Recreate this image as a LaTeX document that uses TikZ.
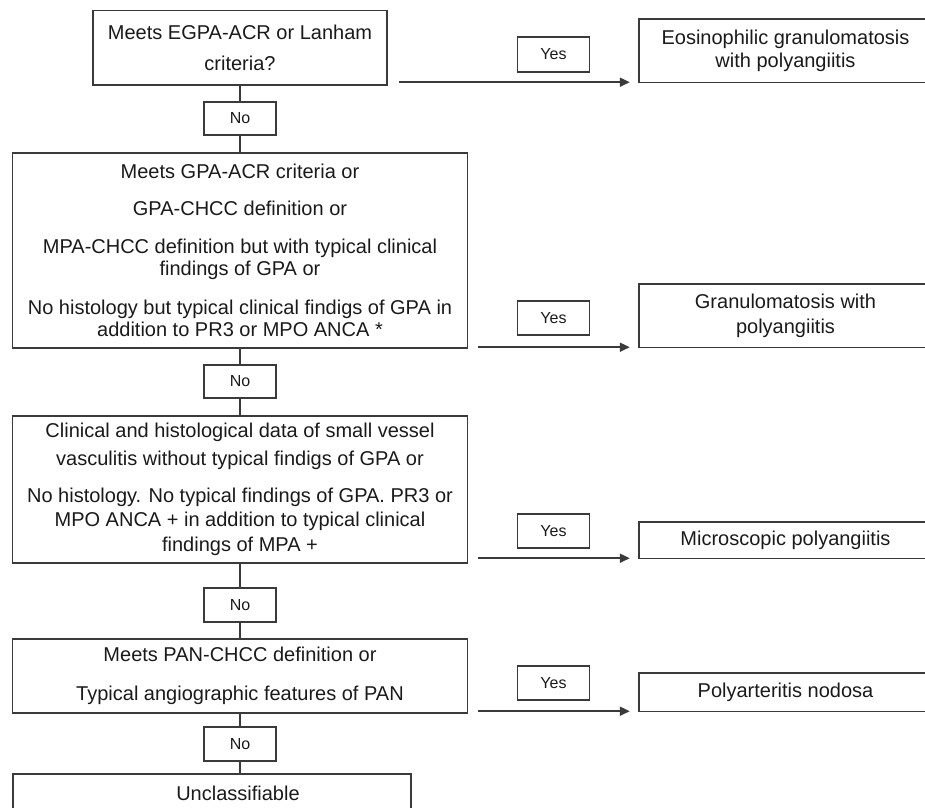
\documentclass[tikz,border=0pt]{standalone}
\usepackage{fontspec}
\setmainfont{Liberation Sans}
\usetikzlibrary{arrows.meta,calc}
\definecolor{ln}{HTML}{3A3A3A}
\definecolor{tx}{HTML}{1A1A1A}
\begin{document}
\begin{tikzpicture}[x=1pt,y=-1pt,
  box/.style={draw=ln, line width=1.4pt, text=tx, align=center, inner sep=0pt, font=\fontsize{20}{22}\selectfont},
  rbox/.style={text=tx, align=center, inner sep=0pt, font=\fontsize{20}{22}\selectfont},
  txt/.style={text=tx, inner sep=0pt, font=\fontsize{20}{22}\selectfont},
  lbl/.style={draw=ln, line width=1.3pt, text=tx, inner sep=0pt, font=\fontsize{16}{18}\selectfont, minimum width=72pt},
  conn/.style={draw=ln, line width=1.4pt},
  arr/.style={draw=ln, line width=1.8pt, -{Triangle[length=10pt,width=9pt]}}]
\useasboundingbox (0,0) rectangle (925,807);

% left column boxes
\node[box, minimum width=294pt, minimum height=74.3pt] (b1) at (240,47.85)
  {Meets EGPA-ACR or Lanham\\[9.7pt]criteria?};
\node[box, minimum width=455pt, minimum height=195pt] (b2) at (240,250.5)
  {Meets GPA-ACR criteria or\\[14.6pt]
   GPA-CHCC definition or\\[16.4pt]
   MPA-CHCC definition but with typical clinical\\
   findings of GPA or\\[16.4pt]
   No histology but typical clinical findigs of GPA in\\
   addition to PR3 or MPO ANCA *};
\node[box, minimum width=455pt, minimum height=147pt] (b3) at (240,489.5)
  {Clinical and histological data of small vessel\\[5.7pt]
   vasculitis without typical findigs of GPA or\\[14.7pt]
   No histology. No typical findings of GPA. PR3 or\\[2pt]
   MPO ANCA + in addition to typical clinical\\[3pt]
   findings of MPA +};
\node[box, minimum width=455pt, minimum height=74pt] (b4) at (240,676)
  {Meets PAN-CHCC definition or\\[16.4pt]Typical angiographic features of PAN};
\node[box, minimum width=398pt, minimum height=38pt] (u) at (212,793) {};
\node[txt] (ut) at (238,793) {Unclassifiable};

% No labels
\node[lbl, minimum height=33pt] (n1) at (240,118.5) {No};
\node[lbl, minimum height=33pt] (n2) at (240,381.5) {No};
\node[lbl, minimum height=34pt] (n3) at (240,605) {No};
\node[lbl, minimum height=34pt] (n4) at (240,744) {No};

% Yes labels
\node[lbl, minimum height=35pt] (y1) at (553.5,54.5) {Yes};
\node[lbl, minimum height=34pt] (y2) at (553.5,318) {Yes};
\node[lbl, minimum height=34pt] (y3) at (553.5,531) {Yes};
\node[lbl, minimum height=34pt] (y4) at (553.5,683) {Yes};

% right column outcome boxes (open at the right picture edge)
\node[rbox, minimum width=293pt, minimum height=63pt] (r1) at (785.5,50.5)
  {Eosinophilic granulomatosis\\[1pt]with polyangiitis};
\node[rbox, minimum width=293pt, minimum height=63pt] (r2) at (785.5,315.5)
  {Granulomatosis with\\[3pt]polyangiitis};
\node[rbox, minimum width=293pt, minimum height=36pt] (r3) at (785.5,540)
  {Microscopic polyangiitis};
\node[rbox, minimum width=293pt, minimum height=38pt] (r4) at (785.5,692)
  {Polyarteritis nodosa};
\foreach \r in {r1,r2,r3,r4}{
  \draw[conn] ([xshift=30pt]\r.north east) -| (\r.south west) -- ([xshift=30pt]\r.south east);
}

% vertical No connectors
\draw[conn] (b1.south) -- (n1.north);
\draw[conn] (n1.south) -- (b2.north);
\draw[conn] (b2.south) -- (n2.north);
\draw[conn] (n2.south) -- (b3.north);
\draw[conn] (b3.south) -- (n3.north);
\draw[conn] (n3.south) -- (b4.north);
\draw[conn] (b4.south) -- (n4.north);
\draw[conn] (n4.south) -- (n4.south |- u.north);

% Yes arrows
\draw[arr] ($(b1.east |- r1.south west)+(11pt,0)$) -- ([xshift=-9pt]r1.south west);
\draw[arr] ($(b2.east |- r2.south west)+(10pt,0)$) -- ([xshift=-9pt]r2.south west);
\draw[arr] ($(b3.east |- r3.south west)+(10pt,0)$) -- ([xshift=-9pt]r3.south west);
\draw[arr] ($(b4.east |- r4.south west)+(10pt,0)$) -- ([xshift=-9pt]r4.south west);
\end{tikzpicture}
\end{document}
